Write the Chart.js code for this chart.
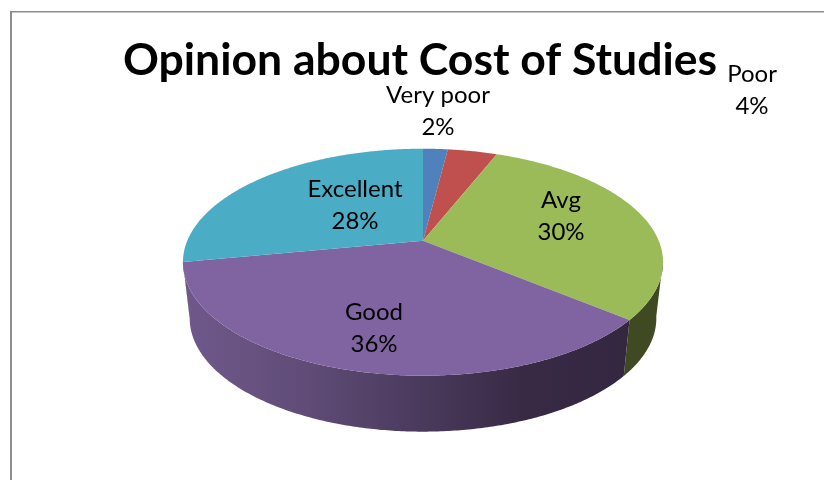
<!DOCTYPE html>
<html>
<head>
<meta charset="utf-8">
<title>Opinion about Cost of Studies</title>
<script src="https://cdn.jsdelivr.net/npm/chart.js@4"></script>
<style>
  html, body { margin: 0; padding: 0; background: #fff; }
  canvas { display: block; }
</style>
</head>
<body>
<canvas id="chart" width="824" height="480"></canvas>
<script>
const titleText = 'Opinion about Cost of Studies';
const categories = ['Very poor', 'Poor', 'Avg', 'Good', 'Excellent'];
const values = [2, 4, 30, 36, 28];
const sliceColors = ['#4f81bd', '#c0504d', '#9bbb59', '#8064a2', '#4bacc6'];

// label centres, same order as categories
const labelX = [438, 752, 561, 374, 355];
const labelY = [111, 90, 216, 328, 205];

// tilted pie: the slices meet above the middle of the ellipse
const tilt = { a: 235.7, b: 109.4, p: -0.1894, shiftX: 3, depth: 56, bottomScale: 0.972 };

// part of the rim that shows a wall, in chart angles (0 is 3 o'clock)
const wallFrom = 10 * Math.PI / 180;
const wallTo = 170 * Math.PI / 180;

function project(el, angle) {
    const u = Math.cos(angle);
    const v = Math.sin(angle);
    const w = 1 + tilt.p * v;
    return { x: el.x + tilt.shiftX + tilt.a * u / w, y: el.y + tilt.b * v / w };
}

function rimPoints(el, from, to) {
    const pts = [];
    const steps = Math.max(2, Math.ceil((to - from) / 0.01));
    for (let i = 0; i <= steps; i++) {
        pts.push(project(el, from + (to - from) * i / steps));
    }
    return pts;
}

function wallFill(ctx, index) {
    if (categories[index] === 'Avg') return '#3f4a23';
    const grad = ctx.createLinearGradient(190, 0, 655, 0);
    grad.addColorStop(0, '#6e588a');
    grad.addColorStop(0.25, '#604c77');
    grad.addColorStop(0.52, '#48385a');
    grad.addColorStop(0.72, '#382a45');
    grad.addColorStop(1, '#33263f');
    return grad;
}

const pie3d = {
    id: 'pie3d',
    beforeDraw(chart) {
        const ctx = chart.ctx;
        ctx.save();
        ctx.fillStyle = '#fff';
        ctx.fillRect(0, 0, chart.width, chart.height);
        ctx.fillStyle = '#8e8e8e';
        ctx.fillRect(10, 11, 2, chart.height - 11);
        ctx.fillRect(10, 11, chart.width - 10, 1.5);
        ctx.restore();
    },
    // stock arcs are replaced, the angles still come from the pie controller
    beforeDatasetDraw() {
        return false;
    },
    afterDatasetsDraw(chart) {
        const ctx = chart.ctx;
        const arcs = chart.getDatasetMeta(0).data;
        ctx.save();

        arcs.forEach((el, i) => {
            const from = Math.max(el.startAngle, wallFrom);
            const to = Math.min(el.endAngle, wallTo);
            if (to <= from) return;
            const top = rimPoints(el, from, to);
            const cx = el.x + tilt.shiftX;
            ctx.beginPath();
            top.forEach((p, n) => n ? ctx.lineTo(p.x, p.y) : ctx.moveTo(p.x, p.y));
            top.slice().reverse().forEach(p => {
                ctx.lineTo(cx + (p.x - cx) * tilt.bottomScale, p.y + tilt.depth);
            });
            ctx.closePath();
            ctx.fillStyle = wallFill(ctx, i);
            ctx.fill();
        });

        arcs.forEach((el, i) => {
            const rim = rimPoints(el, el.startAngle, el.endAngle);
            ctx.beginPath();
            ctx.moveTo(el.x + tilt.shiftX, el.y);
            rim.forEach(p => ctx.lineTo(p.x, p.y));
            ctx.closePath();
            ctx.fillStyle = sliceColors[i];
            ctx.fill();
        });

        ctx.fillStyle = '#000';
        ctx.font = '24px Lato';
        ctx.textAlign = 'center';
        ctx.textBaseline = 'middle';
        categories.forEach((name, i) => {
            ctx.fillText(name, labelX[i], labelY[i] - 16);
            ctx.fillText(values[i] + '%', labelX[i], labelY[i] + 16);
        });
        ctx.restore();
    }
};

new Chart(document.getElementById('chart'), {
    type: 'pie',
    data: {
        labels: categories,
        datasets: [{ data: values, backgroundColor: sliceColors, borderWidth: 0 }]
    },
    options: {
        responsive: false,
        animation: false,
        layout: { padding: { left: 16, right: 0, top: 0, bottom: 86 } },
        plugins: {
            legend: { display: false },
            tooltip: { enabled: false },
            title: {
                display: true,
                text: titleText,
                color: '#000',
                font: { family: 'Lato', size: 44.5, weight: 'bold' },
                padding: { top: 34, bottom: 0 }
            }
        }
    },
    plugins: [pie3d]
});
</script>
</body>
</html>
